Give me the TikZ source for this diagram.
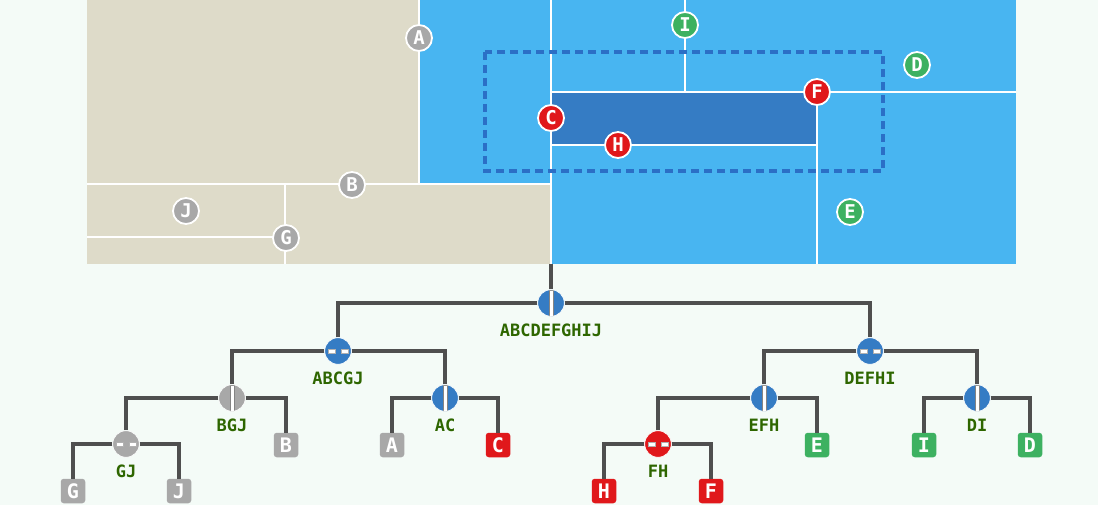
\documentclass[tikz,border=0pt]{standalone}
\usepackage{fontspec}
\setmonofont{DejaVu Sans Mono}
\usetikzlibrary{positioning}
\definecolor{mint}{HTML}{F4FBF7}
\definecolor{sand}{HTML}{DEDBC9}
\definecolor{sky}{HTML}{48B5F1}
\definecolor{deep}{HTML}{357CC4}
\definecolor{query}{HTML}{2B6FC6}
\definecolor{ptred}{HTML}{E0181B}
\definecolor{ptgreen}{HTML}{3DB161}
\definecolor{ptgray}{HTML}{A8A8A8}
\definecolor{wire}{HTML}{4F4F4F}
\definecolor{setname}{HTML}{2E6600}
\begin{document}
\begin{tikzpicture}[x=1pt,y=-1pt,
  cut/.style={white,line width=2.4pt},
  pt/.style={circle,draw=white,line width=1.8pt,minimum size=26pt,inner sep=0pt,
    text=white,font=\ttfamily\bfseries\fontsize{19}{19}\selectfont},
  leaf/.style={rectangle,rounded corners=3pt,minimum size=24.5pt,inner sep=0pt,
    text=white,font=\ttfamily\bfseries\fontsize{20}{20}\selectfont},
  split/.style={circle,draw=white,line width=0.6pt,minimum size=26.5pt,inner sep=0pt},
  vcut/.style={split,path picture={
    \filldraw[white,draw=wire!70,line width=0.5pt]
      ([xshift=-1.8pt]path picture bounding box.north) rectangle
      ([xshift=1.8pt]path picture bounding box.south);}},
  hcut/.style={split,path picture={
    \filldraw[white,draw=wire!45,line width=0.4pt]
      ([xshift=-10pt,yshift=-1.8pt]path picture bounding box.center) rectangle
      ([xshift=-3pt,yshift=1.8pt]path picture bounding box.center)
      ([xshift=3pt,yshift=-1.8pt]path picture bounding box.center) rectangle
      ([xshift=10pt,yshift=1.8pt]path picture bounding box.center);}},
  lbl/.style={inner sep=0pt,text=setname,font=\ttfamily\bfseries\fontsize{17}{17}\selectfont},
  edge/.style={wire,line width=3.3pt}]
\useasboundingbox (0,0) rectangle (1098,505);
\fill[mint] (0,0) rectangle (1098,505);
\fill[sand] (87,0) rectangle (551,264);
\fill[sky] (419,0) rectangle (551,184);
\fill[sky] (551,0) rectangle (1016,264);
\fill[deep] (551,92) rectangle (817,145);
\draw[cut] (87,184) -- (551,184);
\draw[cut] (419,0) -- (419,184);
\draw[cut] (551,0) -- (551,264);
\draw[cut] (285,184) -- (285,264);
\draw[cut] (87,237) -- (285,237);
\draw[cut] (551,92) -- (1016,92);
\draw[cut] (685,0) -- (685,92);
\draw[cut] (817,92) -- (817,264);
\draw[cut] (551,145) -- (817,145);
\draw[query,line width=3.4pt,dash pattern=on 8pt off 5pt] (485,52) rectangle (883,171);
\node[pt,fill=ptgray] (pA) at (419,38) {A};
\node[pt,fill=ptgray] (pB) at (352,185) {B};
\node[pt,fill=ptred] (pC) at (551,118) {C};
\node[pt,fill=ptgreen] (pD) at (917,65) {D};
\node[pt,fill=ptgreen] (pE) at (850,212) {E};
\node[pt,fill=ptred] (pF) at (817,92) {F};
\node[pt,fill=ptgray] (pG) at (286,238) {G};
\node[pt,fill=ptred] (pH) at (618,145) {H};
\node[pt,fill=ptgreen] (pI) at (685,25) {I};
\node[pt,fill=ptgray] (pJ) at (186,211) {J};
\coordinate (stem) at (551,264);
\node[vcut,fill=deep] (root) at (551,303) {};
\node[hcut,fill=deep] (abcgj) at (338,351) {};
\node[hcut,fill=deep] (defhi) at (870,351) {};
\node[vcut,fill=ptgray] (bgj) at (232,398) {};
\node[vcut,fill=deep] (ac) at (445,398) {};
\node[vcut,fill=deep] (efh) at (764,398) {};
\node[vcut,fill=deep] (di) at (977,398) {};
\node[hcut,fill=ptgray] (gj) at (126,444) {};
\node[hcut,fill=ptred] (fh) at (658,444) {};
\node[leaf,fill=ptgray] (lB) at (286,445) {B};
\node[leaf,fill=ptgray] (lA) at (392,445) {A};
\node[leaf,fill=ptred] (lC) at (498,445) {C};
\node[leaf,fill=ptgreen] (lE) at (817,445) {E};
\node[leaf,fill=ptgreen] (lI) at (924,445) {I};
\node[leaf,fill=ptgreen] (lD) at (1030,445) {D};
\node[leaf,fill=ptgray] (lG) at (73,491) {G};
\node[leaf,fill=ptgray] (lJ) at (179,491) {J};
\node[leaf,fill=ptred] (lH) at (604,491) {H};
\node[leaf,fill=ptred] (lF) at (711,491) {F};
\node[lbl,below=7pt of root] (rootl) {ABCDEFGHIJ};
\node[lbl,below=7pt of abcgj] (abcgjl) {ABCGJ};
\node[lbl,below=7pt of defhi] (defhil) {DEFHI};
\node[lbl,below=7pt of bgj] (bgjl) {BGJ};
\node[lbl,below=7pt of ac] (acl) {AC};
\node[lbl,below=7pt of efh] (efhl) {EFH};
\node[lbl,below=7pt of di] (dil) {DI};
\node[lbl,below=7pt of gj] (gjl) {GJ};
\node[lbl,below=7pt of fh] (fhl) {FH};
\draw[edge] (stem) -- (root);
\draw[edge] (root) -| (abcgj);
\draw[edge] (root) -| (defhi);
\draw[edge] (abcgj) -| (bgj);
\draw[edge] (abcgj) -| (ac);
\draw[edge] (defhi) -| (efh);
\draw[edge] (defhi) -| (di);
\draw[edge] (bgj) -| (gj);
\draw[edge] (bgj) -| (lB);
\draw[edge] (ac) -| (lA);
\draw[edge] (ac) -| (lC);
\draw[edge] (efh) -| (fh);
\draw[edge] (efh) -| (lE);
\draw[edge] (di) -| (lI);
\draw[edge] (di) -| (lD);
\draw[edge] (gj) -| (lG);
\draw[edge] (gj) -| (lJ);
\draw[edge] (fh) -| (lH);
\draw[edge] (fh) -| (lF);
\end{tikzpicture}
\end{document}
